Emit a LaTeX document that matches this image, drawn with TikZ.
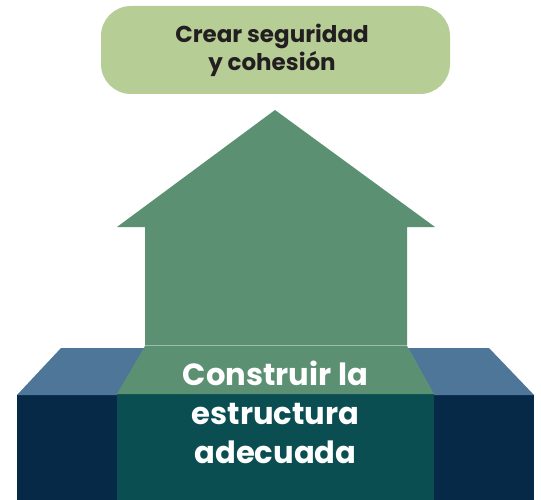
\documentclass[tikz,border=0pt]{standalone}
\usepackage{fontspec}
\setmainfont{Poppins}
\definecolor{navy}{HTML}{052946}
\definecolor{steel}{HTML}{4D7699}
\definecolor{sage}{HTML}{5B9073}
\definecolor{deepteal}{HTML}{0A4E52}
\definecolor{lightgreen}{HTML}{B6CD95}
\definecolor{inkdark}{HTML}{231F20}
\tikzset{
  goalbox/.style={fill=lightgreen,draw=none,rounded corners=30pt,minimum width=349pt,minimum height=88pt,inner sep=0pt},
  goaltext/.style={text=inkdark,font=\fontsize{23}{28.5}\selectfont\bfseries,align=center,inner sep=0pt},
  basetext/.style={text=white,font=\fontsize{30.6}{39}\selectfont\bfseries,align=center,inner sep=0pt}
}
\begin{document}
\begin{tikzpicture}[x=1pt,y=-1pt]
\useasboundingbox (0,0) rectangle (541,500);
% base
\fill[navy] (17,395) rectangle (117,500);
\fill[navy] (434,395) rectangle (534,500);
\fill[steel] (61,348) -- (17,395) -- (117,395) -- (145,348) -- cycle;
\fill[steel] (408,348) -- (489,348) -- (534,395) -- (434,395) -- cycle;
\fill[deepteal] (117,394) rectangle (434,500);
\fill[sage] (145,346) -- (407,346) -- (434,394) -- (117,394) -- cycle;
% house
\fill[sage] (145,345) -- (145,227) -- (117,227) -- (275,110) -- (435,227) -- (407,227) -- (407,345) -- cycle;
\draw[line width=0.7pt,draw=sage!60!white] (145,345.3) -- (407,345.3);
% goal
\node[goalbox] (goal) at (275.5,50) {};
\node[goaltext] (goalt) at (272,50.5) {Crear seguridad\\y cohesión};
\node[basetext] (baset) at (275.5,412) {Construir la\\estructura\\adecuada};
\end{tikzpicture}
\end{document}
